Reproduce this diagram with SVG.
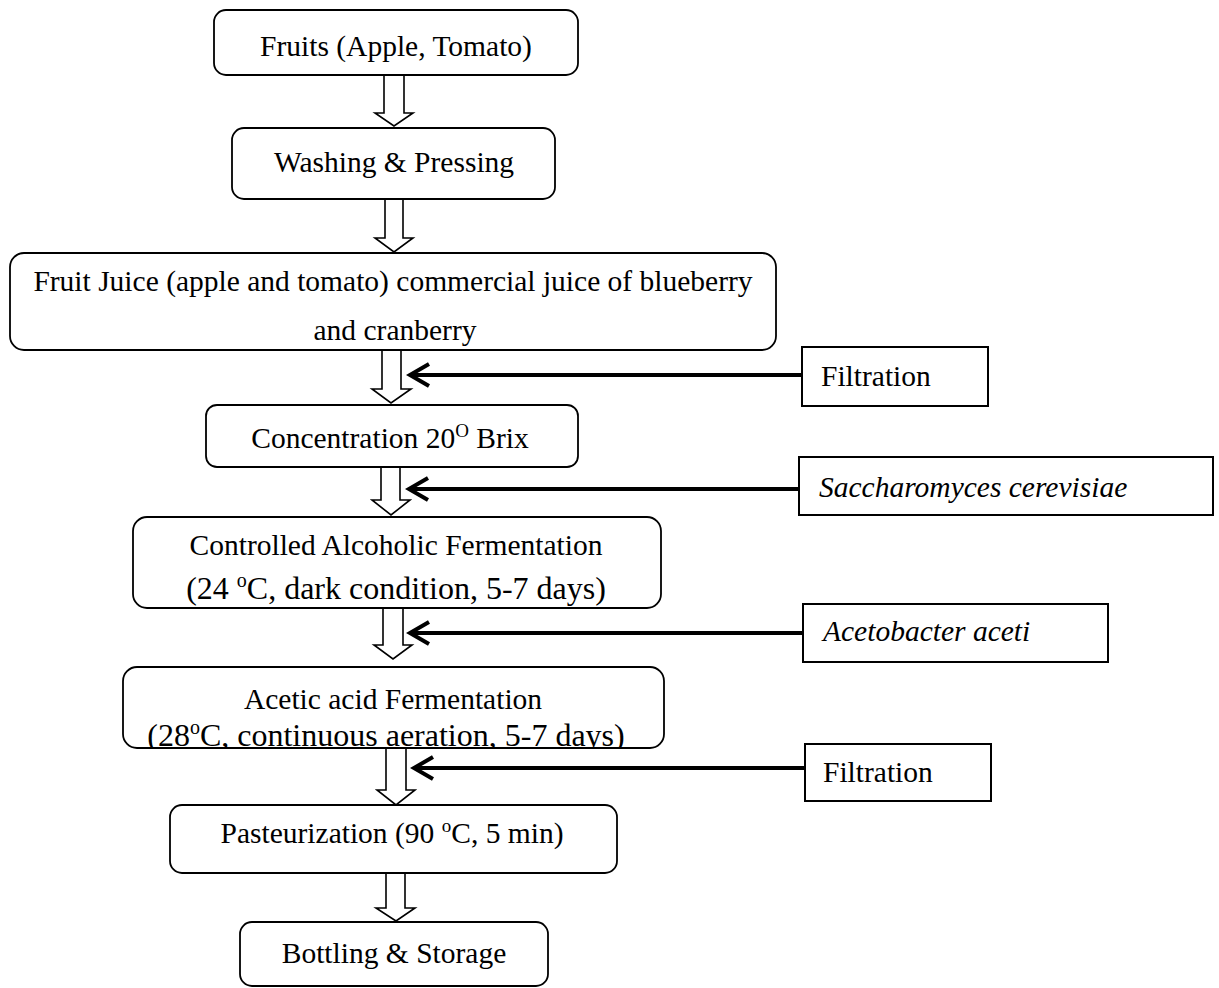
<svg xmlns="http://www.w3.org/2000/svg" width="1219" height="988" viewBox="0 0 1219 988">
<style>
.box{fill:#fff;stroke:#000;stroke-width:2}
.rbox{fill:#fff;stroke:#000;stroke-width:1.8}
.t{font-family:"Liberation Serif","Times New Roman",serif;font-size:29.5px;fill:#000}
.big{font-size:32px}
.it{font-style:italic}
.c{text-anchor:middle}
.harrow{fill:#fff;stroke:#000;stroke-width:1.6;stroke-linejoin:miter}
.side{stroke:#000;stroke-width:4;fill:none}
</style>
<defs>
<marker id="chev" markerUnits="userSpaceOnUse" markerWidth="30" markerHeight="30" viewBox="0 0 30 30" refX="24" refY="15" orient="auto">
<path d="M5,4 L24,15 L5,26" fill="none" stroke="#000" stroke-width="4"/>
</marker>
<clipPath id="c3"><rect x="10" y="253" width="766" height="96"/></clipPath>
<clipPath id="c5"><rect x="133" y="517" width="528" height="90"/></clipPath>
<clipPath id="c6"><rect x="123" y="667" width="541" height="80"/></clipPath>
</defs>

<g id="connectors">
<path class="harrow" d="M384,75 V113 H375 L394,126 L413,113 H404 V75 Z"/>
<path class="harrow" d="M385,199 V238 H375 L394,252 L413,238 H403 V199 Z"/>
<path class="harrow" d="M382,350 V389 H372 L391,403 L411,389 H401 V350 Z"/>
<path class="harrow" d="M381,467 V500 H372 L391,515 L410,500 H400 V467 Z"/>
<path class="harrow" d="M383,608 V645 H374 L393,659 L412,645 H403 V608 Z"/>
<path class="harrow" d="M386,748 V790 H377 L396,805 L415,790 H406 V748 Z"/>
<path class="harrow" d="M386,873 V908 H376 L396,921 L415,908 H405 V873 Z"/>
<line class="side" x1="802" y1="375" x2="410" y2="375" marker-end="url(#chev)"/>
<line class="side" x1="799" y1="489" x2="409" y2="489" marker-end="url(#chev)"/>
<line class="side" x1="803" y1="633" x2="410" y2="633" marker-end="url(#chev)"/>
<line class="side" x1="805" y1="768" x2="414" y2="768" marker-end="url(#chev)"/>
</g>

<g id="n1">
<rect class="rbox" x="214" y="10" width="364" height="65" rx="12"/>
<text class="t c" x="396" y="56">Fruits (Apple, Tomato)</text>
</g>
<g id="n2">
<rect class="rbox" x="232" y="128" width="323" height="71" rx="12"/>
<text class="t c" x="394" y="172">Washing &amp; Pressing</text>
</g>
<g id="n3">
<rect class="rbox" x="10" y="253" width="766" height="97" rx="14"/>
<text class="t c" x="393" y="291">Fruit Juice (apple and tomato) commercial juice of blueberry</text>
<text class="t c" x="395" y="340" clip-path="url(#c3)">and cranberry</text>
</g>
<g id="n4">
<rect class="rbox" x="206" y="405" width="372" height="62" rx="11"/>
<text class="t c" x="390" y="448">Concentration 20<tspan dy="-11" font-size="19">O</tspan><tspan dy="11"> Brix</tspan></text>
</g>
<g id="n5">
<rect class="rbox" x="133" y="517" width="528" height="91" rx="14"/>
<text class="t c" x="396" y="555">Controlled Alcoholic Fermentation</text>
<text class="t big c" x="396" y="599" clip-path="url(#c5)">(24 <tspan dy="-12" font-size="20">o</tspan><tspan dy="12">C, dark condition, 5-7 days)</tspan></text>
</g>
<g id="n6">
<rect class="rbox" x="123" y="667" width="541" height="81" rx="14"/>
<text class="t c" x="393" y="709">Acetic acid Fermentation</text>
<text class="t big c" x="386" y="746" clip-path="url(#c6)">(28<tspan dy="-12" font-size="20">o</tspan><tspan dy="12">C, continuous aeration, 5-7 days)</tspan></text>
</g>
<g id="n7">
<rect class="rbox" x="170" y="805" width="447" height="68" rx="12"/>
<text class="t c" x="392" y="843">Pasteurization (90 <tspan dy="-11" font-size="19">o</tspan><tspan dy="11">C, 5 min)</tspan></text>
</g>
<g id="n8">
<rect class="rbox" x="240" y="922" width="308" height="64" rx="12"/>
<text class="t c" x="394" y="963">Bottling &amp; Storage</text>
</g>

<g id="s1">
<rect class="box" x="802" y="347" width="186" height="59"/>
<text class="t" x="821" y="386">Filtration</text>
</g>
<g id="s2">
<rect class="box" x="799" y="457" width="414" height="58"/>
<text class="t it" x="819" y="497">Saccharomyces cerevisiae</text>
</g>
<g id="s3">
<rect class="box" x="803" y="604" width="305" height="58"/>
<text class="t it" x="823" y="641">Acetobacter aceti</text>
</g>
<g id="s4">
<rect class="box" x="805" y="744" width="186" height="57"/>
<text class="t" x="823" y="782">Filtration</text>
</g>
</svg>
